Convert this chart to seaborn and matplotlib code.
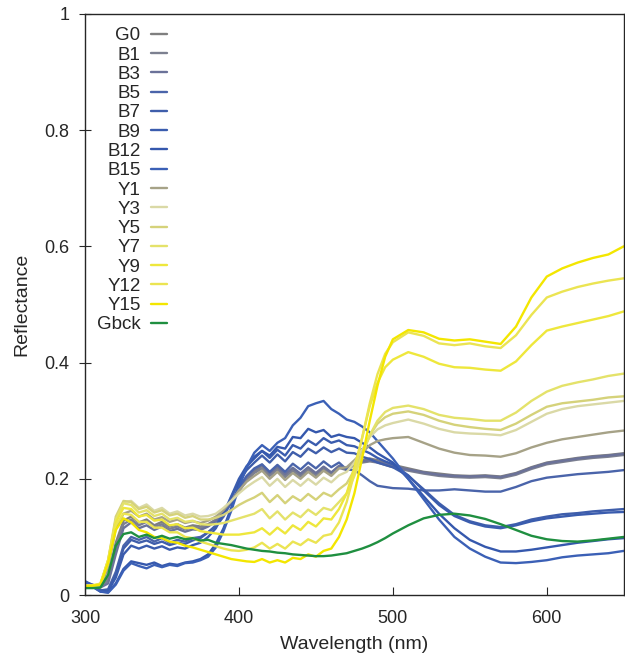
import matplotlib
matplotlib.use('Agg')
import matplotlib.pyplot as plt
import seaborn as sns
import pandas as pd

# wavelength grid (nm)
wavelength = [300, 305, 310, 315, 320, 325, 330, 335, 340, 345, 350, 355, 360, 365, 370,
              375, 380, 385, 390, 395, 400, 405, 410, 415, 420, 425, 430, 435, 440, 445,
              450, 455, 460, 465, 470, 475, 480, 485, 490, 495, 500,
              510, 520, 530, 540, 550, 560, 570, 580, 590, 600, 610, 620, 630, 640, 650]

g0 = [.018, .016, .015, .030, .090, .128, .135, .125, .130, .120, .126, .118, .122, .116, .120,
      .118, .122, .130, .142, .160, .180, .200, .212, .222, .208, .220, .206, .218, .207, .219,
      .208, .220, .210, .222, .218, .228, .232, .235, .232, .228, .224,
      .218, .212, .209, .206, .205, .206, .204, .210, .220, .228, .232, .236, .239, .241, .244]
b1 = [.020, .017, .014, .025, .080, .122, .130, .120, .126, .117, .122, .114, .118, .113, .117,
      .115, .120, .128, .140, .158, .178, .198, .210, .218, .205, .216, .203, .214, .204, .216,
      .206, .217, .207, .219, .215, .224, .228, .230, .228, .224, .220,
      .214, .209, .205, .203, .202, .203, .201, .207, .217, .225, .229, .233, .236, .238, .241]
b3 = [.022, .018, .013, .020, .070, .115, .125, .115, .120, .112, .118, .110, .114, .109, .113,
      .112, .118, .127, .140, .160, .182, .203, .216, .224, .210, .221, .208, .219, .209, .220,
      .210, .221, .211, .222, .218, .226, .230, .232, .229, .226, .222,
      .216, .211, .207, .205, .204, .205, .203, .209, .219, .227, .231, .235, .238, .240, .243]
b5 = [.020, .015, .008, .010, .040, .085, .100, .095, .100, .092, .098, .090, .095, .092, .098,
      .100, .108, .118, .135, .160, .185, .205, .218, .225, .212, .224, .212, .226, .216, .228,
      .218, .230, .220, .228, .216, .215, .206, .196, .188, .186, .184,
      .183, .180, .180, .182, .180, .178, .178, .186, .196, .202, .205, .208, .210, .212, .215]
b7 = [.022, .016, .008, .008, .035, .080, .095, .090, .094, .088, .092, .086, .090, .088, .094,
      .098, .108, .120, .140, .168, .195, .215, .228, .240, .228, .242, .230, .246, .238, .252,
      .244, .254, .246, .252, .245, .244, .238, .234, .228, .224, .220,
      .205, .182, .158, .138, .127, .120, .117, .122, .130, .135, .139, .141, .144, .146, .148]
b9 = [.024, .017, .007, .007, .030, .070, .085, .080, .085, .080, .084, .078, .082, .080, .086,
      .090, .100, .115, .140, .170, .200, .222, .235, .248, .236, .250, .240, .258, .252, .266,
      .258, .270, .262, .266, .258, .256, .250, .244, .236, .230, .225,
      .206, .180, .155, .136, .125, .118, .115, .120, .127, .132, .135, .138, .140, .142, .143]
b12 = [.020, .014, .006, .005, .020, .045, .058, .055, .052, .056, .050, .054, .052, .056, .058,
       .062, .070, .088, .115, .150, .190, .220, .238, .248, .240, .255, .252, .272, .270, .286,
       .280, .284, .272, .276, .272, .270, .262, .254, .244, .236, .228,
       .200, .170, .140, .115, .095, .083, .075, .075, .078, .082, .086, .090, .093, .096, .098]
b15 = [.022, .015, .006, .004, .018, .042, .055, .050, .046, .052, .048, .052, .050, .055, .056,
       .060, .066, .082, .110, .145, .185, .220, .245, .258, .248, .262, .270, .292, .305, .325,
       .330, .334, .320, .312, .302, .298, .290, .280, .265, .250, .235,
       .200, .165, .130, .100, .080, .066, .056, .055, .057, .060, .065, .068, .070, .072, .076]
y1 = [.016, .016, .016, .045, .115, .140, .145, .135, .140, .130, .134, .126, .130, .124, .127,
      .124, .128, .135, .146, .162, .180, .195, .205, .214, .200, .212, .198, .210, .200, .212,
      .202, .214, .205, .218, .220, .232, .245, .258, .265, .268, .270,
      .272, .262, .252, .245, .241, .240, .238, .244, .254, .262, .268, .272, .276, .280, .283]
y3 = [.016, .016, .017, .055, .130, .160, .162, .150, .156, .145, .150, .140, .144, .137, .140,
      .135, .136, .140, .150, .162, .175, .186, .195, .203, .188, .200, .186, .198, .188, .200,
      .190, .202, .194, .206, .212, .228, .250, .272, .285, .292, .296,
      .302, .295, .286, .280, .278, .277, .275, .284, .298, .312, .320, .325, .328, .331, .334]
y5 = [.016, .016, .018, .060, .135, .162, .160, .148, .152, .142, .146, .137, .140, .133, .136,
      .130, .130, .133, .138, .146, .155, .162, .168, .176, .160, .172, .158, .170, .162, .174,
      .164, .176, .170, .182, .192, .215, .245, .275, .295, .306, .312,
      .316, .310, .300, .293, .289, .286, .284, .295, .310, .324, .330, .333, .336, .340, .342]
y7 = [.016, .016, .018, .060, .130, .158, .155, .142, .146, .136, .140, .130, .133, .126, .128,
      .122, .121, .122, .124, .128, .132, .136, .140, .148, .132, .144, .130, .142, .134, .147,
      .138, .150, .146, .160, .175, .205, .240, .275, .300, .315, .322,
      .326, .320, .310, .305, .303, .300, .300, .314, .334, .350, .360, .366, .371, .377, .381]
y9 = [.016, .017, .019, .060, .125, .150, .148, .135, .138, .128, .130, .120, .122, .115, .116,
      .110, .108, .106, .104, .104, .104, .106, .108, .115, .104, .116, .106, .120, .112, .126,
      .118, .132, .130, .148, .175, .220, .270, .325, .365, .392, .405,
      .418, .410, .398, .392, .391, .388, .386, .402, .430, .455, .462, .468, .474, .480, .488]
y12 = [.015, .016, .020, .058, .120, .140, .138, .126, .126, .116, .116, .108, .108, .100, .098,
       .092, .088, .084, .080, .077, .076, .078, .082, .090, .080, .088, .080, .092, .086, .096,
       .090, .102, .105, .125, .160, .210, .270, .330, .380, .415, .435,
       .452, .446, .433, .430, .433, .428, .425, .447, .482, .512, .522, .530, .536, .541, .545]
y15 = [.015, .016, .018, .055, .112, .132, .125, .112, .108, .100, .098, .092, .090, .085, .082,
       .078, .074, .070, .066, .062, .060, .058, .057, .062, .056, .060, .056, .064, .062, .070,
       .066, .076, .080, .100, .130, .175, .235, .300, .360, .410, .440,
       .456, .452, .441, .438, .440, .436, .432, .462, .512, .548, .562, .572, .580, .586, .600]
gbck = [.012, .012, .013, .035, .085, .105, .108, .100, .104, .098, .102, .097, .100, .096, .098,
        .094, .095, .090, .088, .086, .083, .080, .078, .076, .075, .073, .072, .070, .069, .068,
        .067, .067, .068, .070, .072, .076, .080, .085, .091, .098, .106,
        .120, .132, .138, .140, .137, .131, .122, .112, .102, .096, .093, .092, .094, .097, .100]

names = ['G0', 'B1', 'B3', 'B5', 'B7', 'B9', 'B12', 'B15',
         'Y1', 'Y3', 'Y5', 'Y7', 'Y9', 'Y12', 'Y15', 'Gbck']
series = [g0, b1, b3, b5, b7, b9, b12, b15, y1, y3, y5, y7, y9, y12, y15, gbck]
colors = ['#7f7f7f', '#7c8090', '#6b7299', '#4a64aa', '#3f5eab', '#3a5cae', '#3558ad', '#3b60b6',
          '#a6a287', '#dad9a6', '#d5d27a', '#e4e26a', '#eee73c', '#ebe452', '#f3e600', '#1f8f40']

rows = []
for name, vals in zip(names, series):
    for w, r in zip(wavelength, vals):
        rows.append({'nm': w, 'R': r, 'sample': name})
df = pd.DataFrame(rows)

sns.set_style('ticks')
plt.rcParams['font.family'] = ['Liberation Sans', 'DejaVu Sans']

fig = plt.figure(figsize=(6.25, 6.59), dpi=100)
ax = fig.add_axes([0.136, 0.097, 0.862, 0.882])

sns.lineplot(data=df, x='nm', y='R', hue='sample', hue_order=names,
             palette=dict(zip(names, colors)), linewidth=1.7, ax=ax,
             estimator=None, sort=False)

ax.set_xlim(300, 650)
ax.set_ylim(0, 1)
ax.set_xticks([300, 400, 500, 600])
ax.set_yticks([0, 0.2, 0.4, 0.6, 0.8, 1])
ax.set_yticklabels(['0', '0.2', '0.4', '0.6', '0.8', '1'])
ax.tick_params(axis='x', direction='in', length=6, labelsize=13, pad=11)
ax.tick_params(axis='y', direction='inout', length=8, labelsize=13, pad=7)
for s in ax.spines.values():
    s.set_visible(True)
    s.set_linewidth(1.0)
ax.set_xlabel('Wavelength (nm)', fontsize=14, labelpad=6)
ax.set_ylabel('Reflectance', fontsize=14, labelpad=10)

handles, labels = ax.get_legend_handles_labels()
ax.legend(handles, labels, loc='upper left', bbox_to_anchor=(0.008, 0.99),
          frameon=False, markerfirst=False, handlelength=0.85, handletextpad=0.55,
          labelspacing=0.115, fontsize=13.5, borderaxespad=0)

fig.savefig('out.png', dpi=100)
